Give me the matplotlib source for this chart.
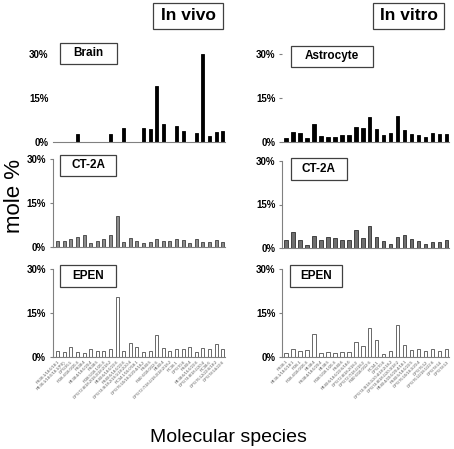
import matplotlib
matplotlib.use("Agg")
import matplotlib.pyplot as plt

plt.rcParams['font.family'] = ['Liberation Sans', 'DejaVu Sans']

# molecular species (x tick labels)
species_vivo = ["PS36:1/18:0/18:1", "PE36:1/18:0/18:1(PE)", "DPG36:1", "PI38:4/18:0/20:4",
                "PS38:4", "PE38:4/18:0/20:4", "PS38:5", "PI38:5/18:1/20:4",
                "DPG72:8/18:2/18:2/18:2/18:2", "PE40:6/18:0/22:6", "PS40:6/18:0/22:6",
                "DPG74:9/18:2/18:1/18:2/20:4", "PC34:1/16:0/18:1", "DPG76:10/18:2/20:4/18:2",
                "PS40:5", "PI40:6/18:0/22:6", "PE40:4", "DPG72:7/18:1/18:2/18:2/18:2",
                "PC36:1", "DPG70:6", "PS40:4", "PE38:6/16:0/22:6",
                "DPG74:8/18:1/20:4", "PC38:6", "DPG76:12/22:6/18:2", "DPG78:14/22:6"]
species_vitro = ["PS36:1", "PE36:1/18:0/18:1", "PI36:1", "PI38:4/18:0/20:4",
                 "PE38:4", "PS38:4/18:0/20:4", "PE38:5", "PI38:5/18:1/20:4",
                 "PS40:6", "PE40:6/18:0/22:6/18:0", "DPG72:8/18:2/18:2",
                 "DPG72:7/18:1/18:2", "PI40:6/18:0/22:6", "PC34:1",
                 "DPG70:6", "DPG74:9/18:1/20:4/18:2/18:2", "DPG74:8/18:1/20:3/18:2",
                 "PE40:4/20:0/20:4/18:1", "PS40:5/18:0/22:5", "DPG76:10/18:2/20:4",
                 "DPG76:12", "DPG76:11/18:1/22:6", "DPG78:14", "DPG78:13"]

# mole % values
brain = [0, 0, 0, 2.7, 0, 0, 0, 0, 2.7, 0, 4.8, 0, 0, 4.8, 4.5, 19.2, 6.0,
         0, 5.4, 3.9, 0, 3.2, 29.9, 2.0, 3.4, 3.6]
ct2a_vivo = [2.2, 2.2, 2.8, 3.3, 4.1, 1.5, 2.0, 2.8, 4.1, 10.6, 1.7, 3.2, 2.0,
             1.2, 1.6, 2.6, 1.9, 2.0, 2.8, 2.3, 1.4, 2.6, 1.8, 1.8, 2.4, 1.6]
epen_vivo = [2.2, 1.8, 3.4, 1.8, 1.4, 2.8, 2.2, 2.0, 2.8, 20.6, 2.2, 4.8, 3.4,
             1.7, 2.0, 7.4, 3.2, 2.0, 2.8, 2.8, 3.5, 1.8, 3.1, 2.8, 4.6, 2.8]
astro = [1.5, 3.4, 3.1, 1.4, 6.3, 2.1, 1.8, 1.7, 2.4, 2.4, 5.2, 4.8, 8.6, 4.6,
         2.5, 3.0, 8.7, 4.1, 2.6, 2.4, 1.7, 3.2, 2.6, 2.6]
ct2a_vitro = [2.7, 5.4, 2.9, 0.9, 4.0, 2.7, 3.7, 3.6, 2.6, 2.7, 6.1, 3.3, 7.5,
              3.7, 2.3, 1.3, 3.9, 4.4, 3.0, 2.5, 1.3, 1.9, 1.9, 2.6]
epen_vitro = [1.5, 2.8, 2.1, 2.4, 8.0, 1.3, 1.6, 1.3, 1.8, 1.8, 5.2, 3.8, 9.8,
              5.8, 1.0, 2.1, 10.8, 4.0, 2.5, 2.8, 2.1, 2.8, 2.1, 2.8]

W, H = 454, 449
fig = plt.figure(figsize=(W / 100, H / 100), dpi=100)
grey = "#808080"


def namebox(x0, x1, y0, y1, text, size=8.5):
    # box with centered bold label, in pixel coords from top-left
    r = plt.Rectangle((x0 / W, 1 - y1 / H), (x1 - x0) / W, (y1 - y0) / H,
                      transform=fig.transFigure, fc="white", ec="#404040",
                      lw=0.9, zorder=5)
    fig.patches.append(r)
    fig.text((x0 + x1) / 2 / W, 1 - (y0 + y1) / 2 / H, text, fontsize=size,
             fontweight="bold", ha="center", va="center", zorder=6)


def make(x0, x1, ytop, ybot, values, labels, face, edge, xlim,
         show_left=True, left_ticks=True, xlabels=False):
    ax = fig.add_axes([x0 / W, 1 - ybot / H, (x1 - x0) / W, (ybot - ytop) / H])
    x = list(range(len(values)))
    ax.bar(x, values, width=0.45, color=face, edgecolor=edge, linewidth=0.6)
    ax.set_ylim(0, 30)
    ax.set_xlim(*xlim)
    ax.set_yticks([0, 15, 30])
    ax.set_yticklabels(["0%", "15%", "30%"], fontsize=7, fontweight="bold")
    ax.tick_params(axis="y", length=2 if left_ticks else 0, color=grey, pad=3)
    for s in ["top", "right"]:
        ax.spines[s].set_visible(False)
    ax.spines["left"].set_visible(show_left)
    for s in ["left", "bottom"]:
        ax.spines[s].set_color(grey)
        ax.spines[s].set_linewidth(0.8)
    ax.set_xticks(x)
    if xlabels:
        ax.set_xticklabels(labels, fontsize=3.0, rotation=45, ha="right",
                           rotation_mode="anchor", color="#555555")
        ax.tick_params(axis="x", length=0, pad=2)
    else:
        ax.set_xticklabels([])
        ax.tick_params(axis="x", length=0)
    return ax


vivo_lim = (-0.75, 25.35)
vitro_lim = (-0.53, 23.35)

# in vivo column
make(52.7, 225, 54, 142, brain, species_vivo, "black", "black", vivo_lim,
     show_left=False, left_ticks=False)
make(52.7, 225, 159, 247, ct2a_vivo, species_vivo, "#8c8c8c", "#404040", vivo_lim)
make(52.7, 225, 269, 357, epen_vivo, species_vivo, "white", "#505050", vivo_lim,
     xlabels=True)

# in vitro column
make(282.3, 449.3, 54, 142, astro, species_vitro, "black", "black", vitro_lim,
     show_left=False)
make(282.3, 449.3, 161, 248, ct2a_vitro, species_vitro, "#6e6e6e", "#303030", vitro_lim)
make(282.3, 449.3, 269, 357, epen_vitro, species_vitro, "white", "#505050", vitro_lim,
     xlabels=True)

namebox(60, 117, 43, 64, "Brain")
namebox(291, 373, 46, 67, "Astrocyte")
namebox(60, 116, 155, 176, "CT-2A")
namebox(291, 347, 158, 180, "CT-2A")
namebox(60, 116, 265, 287, "EPEN")
namebox(290, 342, 265, 287, "EPEN")
namebox(153, 223, 3, 29, "In vivo", size=12.5)
namebox(373, 444, 3, 29, "In vitro", size=12.5)

fig.text(15 / W, 1 - 196 / H, "mole %", fontsize=16, rotation=90,
         ha="center", va="center")
fig.text(228 / W, 1 - 437 / H, "Molecular species", fontsize=14,
         ha="center", va="center")

fig.savefig("out.png", dpi=100)
